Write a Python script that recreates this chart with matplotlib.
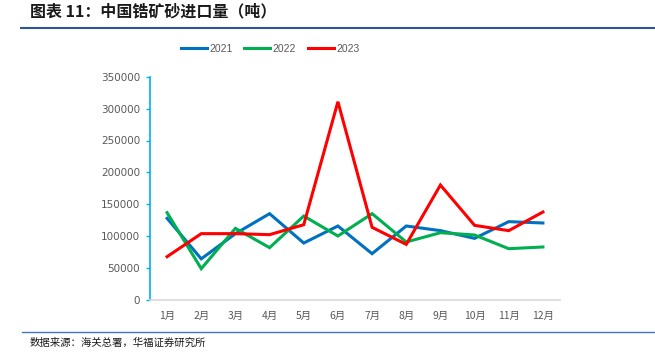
import matplotlib
matplotlib.use("Agg")
import matplotlib.pyplot as plt
from matplotlib.lines import Line2D

plt.rcParams['font.family'] = ['Noto Sans CJK SC', 'DejaVu Sans']

months = ["1月", "2月", "3月", "4月", "5月", "6月", "7月", "8月", "9月", "10月", "11月", "12月"]
y2021 = [128000, 64500, 104000, 135300, 89300, 116000, 72600, 116000, 108700, 96600, 122800, 120700]
y2022 = [136900, 49100, 112300, 82000, 131600, 100300, 135300, 90900, 105500, 101900, 80400, 83100]
y2023 = [67900, 104000, 104000, 102400, 118000, 310800, 113900, 87200, 180200, 117000, 108700, 137900]
series_names = ["2021", "2022", "2023"]
colors = ["#0070C0", "#00B050", "#FF0000"]
yticks = [0, 50000, 100000, 150000, 200000, 250000, 300000, 350000]

W, H = 655, 363
fig = plt.figure(figsize=(W / 100, H / 100), dpi=100)
ax = fig.add_axes([150 / W, 1 - 300 / H, 410 / W, (300 - 76.7) / H])

x = list(range(len(months)))
for vals, c, n in zip([y2021, y2022, y2023], colors, series_names):
    ax.plot(x, vals, color=c, lw=2.2, label=n, solid_joinstyle='miter')

ax.set_xlim(-0.5, len(months) - 0.5)
ax.set_ylim(0, 350000)
ax.set_yticks(yticks)
ax.set_yticklabels([str(v) for v in yticks], color="#595959", fontsize=7.5, family=['DejaVu Sans'])
ax.set_xticks(x)
ax.set_xticklabels(months, color="#595959", fontsize=7.5)
ax.tick_params(axis='x', length=0, pad=8)
ax.tick_params(axis='y', length=3, color="#00B0F0", width=1, pad=4)
for s in ['top', 'right']:
    ax.spines[s].set_visible(False)
ax.spines['left'].set_color("#00B0F0")
ax.spines['left'].set_linewidth(1.2)
ax.spines['bottom'].set_color("#D9D9D9")
ax.spines['bottom'].set_linewidth(1.2)

handles = [Line2D([0], [0], color=c, lw=2.2) for c in colors]
fig.legend(handles, series_names, loc='center', bbox_to_anchor=(270 / W, 1 - 49 / H),
           ncol=3, frameon=False, prop={'family': 'Liberation Sans', 'size': 7.5},
           handlelength=2.5, columnspacing=1.1, handletextpad=0.25, labelcolor="#595959")

fig.text(30 / W, 1 - 11 / H, "图表 11：中国锆矿砂进口量（吨）", fontsize=11.5, fontweight='bold',
         style='italic', color="#1a1a1a", va='center', ha='left')
fig.add_artist(Line2D([21 / W, 1.0], [1 - 28 / H, 1 - 28 / H], color="#2E5597", lw=1.5))
fig.add_artist(Line2D([22 / W, 1.0], [1 - 331.7 / H, 1 - 331.7 / H], color="#4472C4", lw=1.0))
fig.text(30 / W, 1 - 343 / H, "数据来源：海关总署，华福证券研究所", fontsize=7.5, color="#1a1a1a",
         va='center', ha='left')

fig.savefig("out.png", dpi=100)
